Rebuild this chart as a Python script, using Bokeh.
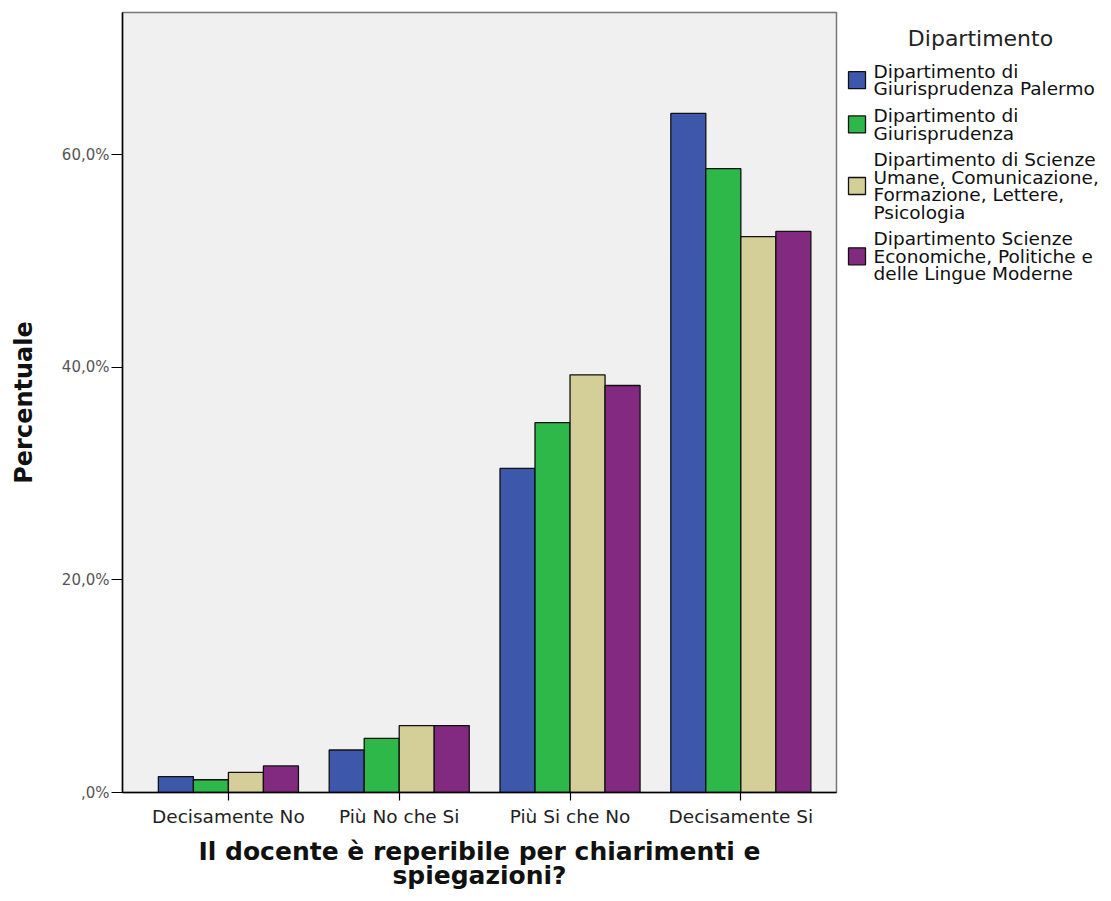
from bokeh.plotting import figure
from bokeh.layouts import row
from bokeh.models import Range1d, FixedTicker, ColumnDataSource
from bokeh.core.properties import value
from bokeh.transform import dodge
from bokeh.embed import file_html
from bokeh.resources import INLINE

categories = ["Decisamente No", "Più No che Si", "Più Si che No", "Decisamente Si"]
legend_title = "Dipartimento"
series_labels = [
    "Dipartimento di\nGiurisprudenza Palermo",
    "Dipartimento di\nGiurisprudenza",
    "Dipartimento di Scienze\nUmane, Comunicazione,\nFormazione, Lettere,\nPsicologia",
    "Dipartimento Scienze\nEconomiche, Politiche e\ndelle Lingue Moderne",
]
palermo = [1.5, 4.0, 30.5, 63.9]
giurisprudenza = [1.2, 5.1, 34.8, 58.7]
scienze_umane = [1.9, 6.3, 39.3, 52.3]
scienze_economiche = [2.5, 6.3, 38.3, 52.8]
colors = ["#3d57ab", "#2fb84a", "#d4cf98", "#822a7f"]
y_ticks = [0, 20, 40, 60]
y_tick_labels = [",0%", "20,0%", "40,0%", "60,0%"]

FONT = "DejaVu Sans"

source = ColumnDataSource(dict(
    x=list(range(len(categories))),
    s0=palermo, s1=giurisprudenza, s2=scienze_umane, s3=scienze_economiche,
))

p = figure(
    frame_width=714, frame_height=780,
    x_range=Range1d(-0.62, 3.56), y_range=Range1d(0, 73.4),
    output_backend="svg", toolbar_location=None,
    min_border_left=122, min_border_top=12, min_border_right=2, min_border_bottom=8,
)
p.background_fill_color = "#f0f0f0"
p.border_fill_color = "white"
p.outline_line_color = "#777777"
p.outline_line_width = 1.5
p.grid.visible = False

bw = 0.205
offsets = [-1.5 * bw, -0.5 * bw, 0.5 * bw, 1.5 * bw]
for i, off in enumerate(offsets):
    p.vbar(x=dodge("x", off, range=p.x_range), top="s%d" % i, width=bw,
           source=source, fill_color=colors[i], line_color="#111111", line_width=1.3)

# axes
xa = p.xaxis[0]
xa.ticker = FixedTicker(ticks=list(range(len(categories))))
xa.major_label_overrides = {i: c for i, c in enumerate(categories)}
xa.minor_tick_line_color = None
xa.major_tick_in = 0
xa.major_tick_out = 8
xa.axis_line_width = 1.5
xa.major_tick_line_width = 1.2
xa.major_label_text_font = FONT
xa.major_label_text_font_size = "18.5px"
xa.major_label_text_color = "#222222"
xa.major_label_standoff = 5
xa.axis_label = "Il docente è reperibile per chiarimenti e\nspiegazioni?"
xa.axis_label_text_font = FONT
xa.axis_label_text_font_size = "25px"
xa.axis_label_text_font_style = "bold"
xa.axis_label_text_color = "#111111"
xa.axis_label_standoff = 7
xa.axis_label_text_line_height = 0.86

ya = p.yaxis[0]
ya.ticker = FixedTicker(ticks=y_ticks)
ya.major_label_overrides = {t: l for t, l in zip(y_ticks, y_tick_labels)}
ya.minor_tick_line_color = None
ya.major_tick_in = 0
ya.major_tick_out = 11
ya.axis_line_width = 1.5
ya.major_tick_line_width = 1.2
ya.major_label_text_font = FONT
ya.major_label_text_font_size = "15px"
ya.major_label_text_color = "#555555"
ya.major_label_standoff = 2
ya.axis_label = "Percentuale"
ya.axis_label_text_font = FONT
ya.axis_label_text_font_size = "24px"
ya.axis_label_text_font_style = "bold"
ya.axis_label_text_color = "#111111"
ya.axis_label_standoff = 21

# ---- legend panel: its frame is aligned with the main frame (y in page pixels) ----
LW = 270
leg = figure(
    frame_width=LW, frame_height=780,
    x_range=Range1d(0, LW), y_range=Range1d(792, 12),
    output_backend="svg", toolbar_location=None,
    x_axis_location=None, y_axis_location=None,
    min_border_left=0, min_border_right=0, min_border_top=12, min_border_bottom=8,
)
leg.outline_line_color = None
leg.grid.visible = False
leg.background_fill_color = "white"

sw_x, sw_size, txt_x = 18.5, 17, 35
line_h, gap, first_y = 17.4, 9.4, 71

sx, sy, sc = [], [], []
tx, ty, tt = [], [], []
y = first_y
for lab, col in zip(series_labels, colors):
    lines = lab.split("\n")
    ys = [y + k * line_h for k in range(len(lines))]
    for ln, yy in zip(lines, ys):
        tx.append(txt_x); ty.append(yy); tt.append(ln)
    sx.append(sw_x); sy.append((ys[0] + ys[-1]) / 2); sc.append(col)
    y = ys[-1] + line_h + gap

leg.rect(x=sx, y=sy, width=sw_size, height=sw_size, fill_color=sc,
         line_color="#111111", line_width=1.3)
leg.text(x=tx, y=ty, text=tt, text_font=value(FONT), text_font_size="18.5px",
         text_color="#111111", text_baseline="middle", text_align="left")
leg.text(x=[142], y=[38], text=[legend_title], text_font=value(FONT),
         text_font_size="22px", text_color="#222222",
         text_baseline="middle", text_align="center")

layout = row(p, leg, spacing=0)
open("out.html", "w").write(file_html(layout, INLINE))
